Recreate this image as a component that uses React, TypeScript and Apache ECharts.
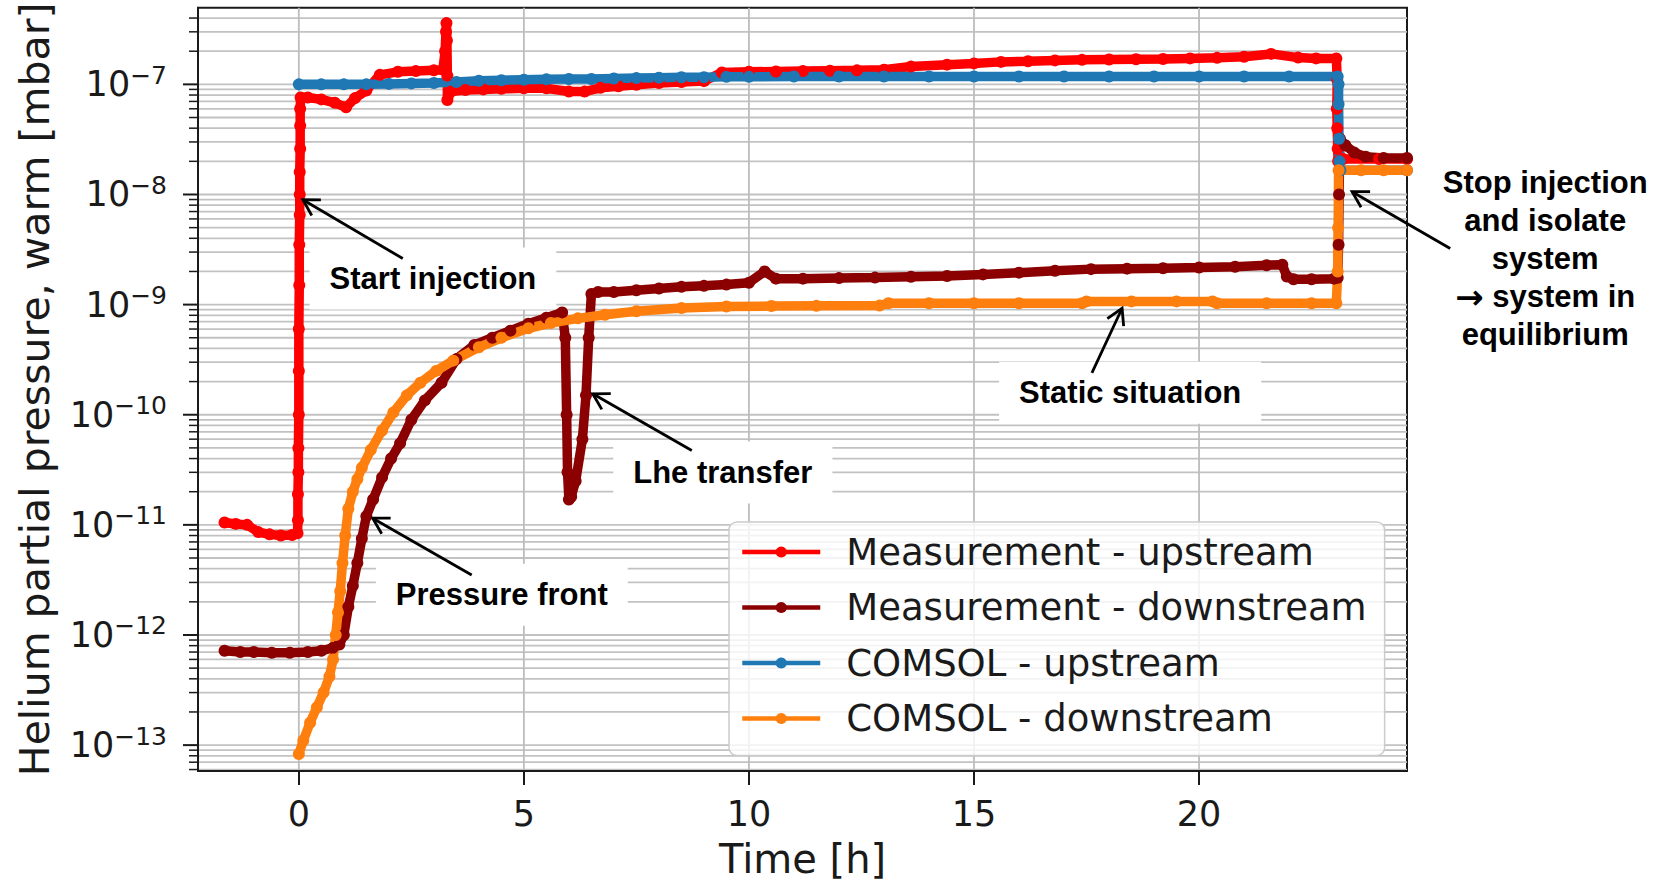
import React, { useEffect, useRef } from 'react';
import * as echarts from 'echarts';

// ---------- data ----------
const measurementUpstream: [number, number][] = [
  [-1.65, 1.05e-11], [-1.4, 1.02e-11], [-1.15, 1.0e-11], [-0.9, 8.6e-12], [-0.65, 8.2e-12], [-0.4, 8.0e-12],
  [-0.15, 8.1e-12], [-0.03, 8.4e-12], [-0.02, 1.1e-11], [-0.02, 1.9e-11], [-0.01, 3.0e-11], [-0.01, 5e-11],
  [0, 1e-10], [0, 2.5e-10], [0, 6e-10], [0.01, 1.5e-9], [0.01, 3.5e-9], [0.02, 6.5e-9], [0.02, 1.0e-8],
  [0.02, 1.6e-8], [0.03, 2.6e-8], [0.03, 4.2e-8], [0.03, 6.0e-8], [0.04, 7.6e-8], [0.2, 7.6e-8], [0.5, 7.3e-8],
  [0.8, 6.8e-8], [1.05, 6.2e-8], [1.25, 7.5e-8], [1.5, 8.8e-8], [1.8, 1.22e-7], [2.2, 1.3e-7], [2.6, 1.32e-7],
  [3.0, 1.34e-7], [3.2, 1.36e-7], [3.25, 2.0e-7], [3.27, 3.0e-7], [3.28, 3.6e-7], [3.29, 2.5e-7], [3.3, 1.2e-7],
  [3.3, 7.2e-8], [3.38, 8.6e-8], [3.7, 8.9e-8], [4.1, 9.0e-8], [4.5, 9.1e-8], [5.0, 9.2e-8], [5.5, 9.2e-8],
  [6.0, 8.6e-8], [6.35, 8.6e-8], [6.7, 9.3e-8], [7.1, 9.6e-8], [7.5, 9.9e-8], [8.0, 1.03e-7], [8.5, 1.05e-7],
  [9.0, 1.07e-7], [9.4, 1.28e-7], [10, 1.3e-7], [10.6, 1.31e-7], [11.2, 1.32e-7], [11.8, 1.33e-7], [12.4, 1.34e-7],
  [13.0, 1.36e-7], [13.6, 1.45e-7], [14.4, 1.51e-7], [15.0, 1.55e-7], [15.6, 1.6e-7], [16.2, 1.62e-7], [16.8, 1.65e-7],
  [17.4, 1.67e-7], [18.0, 1.68e-7], [18.6, 1.69e-7], [19.2, 1.7e-7], [19.8, 1.72e-7], [20.4, 1.74e-7], [21.0, 1.78e-7],
  [21.6, 1.89e-7], [22.2, 1.75e-7], [22.6, 1.72e-7], [23.05, 1.72e-7], [23.07, 1.1e-7], [23.06, 6e-8], [23.07, 4e-8],
  [23.08, 2.6e-8], [23.09, 2.0e-8], [23.2, 2.1e-8], [24.0, 2.1e-8], [24.62, 2.1e-8],
];

const measurementDownstream: [number, number][] = [
  [-1.65, 7.2e-13], [-1.3, 7.0e-13], [-1.0, 7.0e-13], [-0.6, 6.9e-13], [-0.2, 6.9e-13], [0.2, 7.0e-13],
  [0.5, 7.2e-13], [0.75, 7.6e-13], [0.9, 8.2e-13], [1.0, 1.0e-12], [1.1, 1.8e-12], [1.2, 2.8e-12],
  [1.3, 4.5e-12], [1.4, 7.5e-12], [1.5, 1.2e-11], [1.65, 1.7e-11], [1.85, 2.7e-11], [2.05, 4.0e-11],
  [2.25, 5.5e-11], [2.5, 9.0e-11], [2.8, 1.35e-10], [3.17, 1.95e-10], [3.5, 3.2e-10], [3.9, 4.3e-10],
  [4.3, 5.0e-10], [4.7, 5.8e-10], [5.1, 6.7e-10], [5.5, 7.6e-10], [5.85, 8.5e-10], [5.92, 5e-10],
  [5.95, 1e-10], [5.97, 3e-11], [6.0, 1.7e-11], [6.05, 1.8e-11], [6.15, 2.5e-11], [6.3, 6.0e-11],
  [6.38, 1.5e-10], [6.44, 5e-10], [6.5, 1.25e-9], [6.65, 1.3e-9], [7.0, 1.3e-9], [7.5, 1.35e-9],
  [8.0, 1.4e-9], [8.5, 1.45e-9], [9.0, 1.48e-9], [9.5, 1.52e-9], [10.0, 1.58e-9], [10.35, 2.0e-9],
  [10.6, 1.72e-9], [11.2, 1.72e-9], [12.0, 1.74e-9], [12.8, 1.76e-9], [13.6, 1.79e-9], [14.4, 1.82e-9],
  [15.2, 1.88e-9], [16.0, 1.95e-9], [16.8, 2.03e-9], [17.6, 2.1e-9], [18.4, 2.12e-9], [19.2, 2.14e-9],
  [20.0, 2.17e-9], [20.8, 2.21e-9], [21.5, 2.28e-9], [21.85, 2.3e-9], [21.95, 1.8e-9], [22.1, 1.7e-9],
  [22.5, 1.7e-9], [23.0, 1.72e-9], [23.08, 1.75e-9], [23.1, 3.5e-9], [23.11, 1.0e-8], [23.13, 3.2e-8],
  [23.25, 2.8e-8], [23.45, 2.4e-8], [23.7, 2.2e-8], [24.1, 2.15e-8], [24.62, 2.15e-8],
];

const comsolUpstream: [number, number][] = [
  [0, 1.0e-7], [0.5, 1.0e-7], [1.0, 1.0e-7], [1.5, 1.0e-7], [2.0, 1.01e-7], [2.5, 1.02e-7], [3.0, 1.03e-7],
  [3.5, 1.05e-7], [4.0, 1.08e-7], [4.5, 1.09e-7], [5.0, 1.1e-7], [5.5, 1.11e-7], [6.0, 1.12e-7], [6.5, 1.12e-7],
  [7.0, 1.13e-7], [7.5, 1.14e-7], [8.0, 1.15e-7], [8.5, 1.16e-7], [9.0, 1.16e-7], [9.5, 1.17e-7], [10, 1.17e-7],
  [11, 1.18e-7], [12, 1.18e-7], [13, 1.18e-7], [14, 1.18e-7], [15, 1.18e-7], [16, 1.18e-7], [17, 1.18e-7],
  [18, 1.18e-7], [19, 1.18e-7], [20, 1.18e-7], [21, 1.18e-7], [22, 1.18e-7], [23.08, 1.18e-7], [23.1, 1.0e-7],
  [23.1, 6.6e-8], [23.11, 3.2e-8], [23.12, 2.0e-8], [23.14, 1.66e-8], [24.62, 1.66e-8],
];

const comsolDownstream: [number, number][] = [
  [0.0, 8.3e-14], [0.1, 1.1e-13], [0.25, 1.6e-13], [0.4, 2.2e-13], [0.55, 3.0e-13], [0.68, 4.2e-13],
  [0.76, 6.0e-13], [0.82, 1.0e-12], [0.87, 1.6e-12], [0.92, 2.5e-12], [0.97, 4.5e-12], [1.03, 8.0e-12],
  [1.1, 1.4e-11], [1.2, 2.0e-11], [1.3, 2.6e-11], [1.4, 3.3e-11], [1.6, 4.8e-11], [1.85, 7.2e-11],
  [2.1, 1.05e-10], [2.4, 1.5e-10], [2.7, 1.95e-10], [3.05, 2.5e-10], [3.43, 3.1e-10], [4.0, 4.1e-10],
  [4.5, 5.0e-10], [5.1, 6.1e-10], [5.6, 6.8e-10], [6.2, 7.5e-10], [6.8, 8.1e-10], [7.5, 8.7e-10],
  [8.5, 9.3e-10], [9.5, 9.6e-10], [10.5, 9.7e-10], [11.5, 9.75e-10], [12.9, 9.8e-10], [13.1, 1.03e-9],
  [14.0, 1.03e-9], [15.0, 1.03e-9], [16.0, 1.03e-9], [17.4, 1.03e-9], [17.5, 1.07e-9], [18.5, 1.07e-9],
  [19.5, 1.07e-9], [20.3, 1.07e-9], [20.4, 1.03e-9], [21.5, 1.03e-9], [22.5, 1.03e-9], [23.05, 1.03e-9],
  [23.08, 2.0e-9], [23.09, 5.0e-9], [23.1, 1.66e-8], [23.6, 1.66e-8], [24.1, 1.66e-8], [24.62, 1.66e-8],
];

const seriesNames = ['Measurement - upstream', 'Measurement - downstream', 'COMSOL - upstream', 'COMSOL - downstream'];
const seriesColors = ['#ff0000', '#8b0000', '#1f77b4', '#ff7f0e'];

const xTickValues = [0, 5, 10, 15, 20];
const yDecades = [-13, -12, -11, -10, -9, -8, -7];
const minorMultipliers = [2, 3, 4, 5, 6, 7, 8, 9];

const xAxisName = 'Time [h]';
const yAxisName = 'Helium partial pressure, warm [mbar]';

const annotationTexts: { text: string; at: [number, number]; boxed: boolean }[] = [
  { text: 'Start injection', at: [2.98, 1.73e-9], boxed: true },
  { text: 'Lhe transfer', at: [9.42, 2.99e-11], boxed: true },
  { text: 'Pressure front', at: [4.51, 2.32e-12], boxed: true },
  { text: 'Static situation', at: [18.47, 1.58e-10], boxed: true },
  { text: 'Stop injection\nand isolate\nsystem\n{a|\u2192} system in\nequilibrium', at: [27.69, 2.62e-9], boxed: false },
];

const annotationArrows: { from: [number, number]; to: [number, number] }[] = [
  { from: [2.31, 2.62e-9], to: [0.09, 8.95e-9] },
  { from: [8.73, 4.73e-11], to: [6.53, 1.55e-10] },
  { from: [3.84, 3.51e-12], to: [1.64, 1.15e-11] },
  { from: [17.62, 2.4e-10], to: [18.29, 9.27e-10] },
  { from: [25.58, 3.23e-9], to: [23.4, 1.06e-8] },
];

// ---------- axis extents ----------
const X_MIN = -2.24;
const X_MAX = 24.62;
const Y_MIN = 5.82e-14;
const Y_MAX = 4.97e-7;

const FONT = '"DejaVu Sans", sans-serif';
const ANNO_FONT = 'bold 31px "Liberation Sans", Arial, sans-serif';

const yMajorValues = yDecades.map((d) => Math.pow(10, d));
const yGridValues: [number, number, number][] = [];
for (let d = -14; d <= -7; d++) {
  const base = Math.pow(10, d);
  if (base >= Y_MIN && base <= Y_MAX) yGridValues.push([X_MIN, base, 1]);
  for (const m of minorMultipliers) {
    const v = m * base;
    if (v >= Y_MIN && v <= Y_MAX * 0.999) yGridValues.push([X_MIN, v, 0]);
  }
}

export default function App() {
  const ref = useRef<HTMLDivElement>(null);

  useEffect(() => {
    if (!ref.current) return;
    const chart = echarts.init(ref.current, null, { renderer: 'svg' });

    const allData = [measurementUpstream, measurementDownstream, comsolUpstream, comsolDownstream];

    const option: any = {
      animation: false,
      backgroundColor: '#ffffff',
      grid: {
        left: 198,
        right: 250,
        top: 5,
        bottom: 112,
        show: true,
        borderColor: '#1a1a1a',
        borderWidth: 2,
        backgroundColor: 'transparent',
      },
      legend: {
        orient: 'vertical',
        left: 729,
        top: 522,
        padding: [10, 18, 17, 11],
        itemGap: 15.5,
        itemWidth: 78,
        itemHeight: 14,
        backgroundColor: 'rgba(255,255,255,0.8)',
        borderColor: '#cccccc',
        borderWidth: 1.5,
        borderRadius: 8,
        lineStyle: { width: 4.5 },
        textStyle: {
          fontSize: 37,
          fontFamily: FONT,
          color: '#1a1a1a',
          lineHeight: 40,
          padding: [0, 0, 0, 21],
        },
        data: seriesNames,
      },
      xAxis: {
        type: 'value',
        min: X_MIN,
        max: X_MAX,
        name: xAxisName,
        nameLocation: 'middle',
        nameGap: 68,
        nameTextStyle: { fontSize: 40, fontFamily: FONT, color: '#1a1a1a' },
        axisLine: { show: true, onZero: false, lineStyle: { color: '#1a1a1a', width: 2 } },
        axisTick: { show: true, length: 14, customValues: xTickValues, lineStyle: { color: '#1a1a1a', width: 2 } },
        axisLabel: {
          customValues: xTickValues,
          fontSize: 35,
          fontFamily: FONT,
          color: '#1a1a1a',
          margin: 25,
          formatter: (v: number) => String(Math.round(v)),
        },
        splitLine: { show: false },
      },
      yAxis: {
        type: 'log',
        logBase: 10,
        min: Y_MIN,
        max: Y_MAX,
        name: yAxisName,
        nameLocation: 'middle',
        nameGap: 143,
        nameTextStyle: { fontSize: 41, fontFamily: FONT, color: '#1a1a1a' },
        axisLine: { show: true, onZero: false, lineStyle: { color: '#1a1a1a', width: 2 } },
        axisTick: { show: false },
        axisLabel: {
          customValues: yMajorValues,
          margin: 31,
          formatter: (v: number) => {
            const e = Math.round(Math.log10(v));
            return `{b|10}{s|\u2212${Math.abs(e)}}`;
          },
          rich: {
            b: { fontSize: 35, fontFamily: FONT, color: '#1a1a1a' },
            s: { fontSize: 25, fontFamily: FONT, color: '#1a1a1a', padding: [0, 0, 18, 0] },
          },
        },
        splitLine: { show: false },
        minorTick: { show: false },
      },
      series: [
        {
          type: 'custom',
          name: 'hgrid',
          silent: true,
          z: 0,
          clip: false,
          encode: { x: 0, y: 1 },
          data: yGridValues,
          renderItem: (params: any, api: any) => {
            const v = api.value(1);
            const major = api.value(2) === 1;
            const pt = api.coord([X_MIN, v]);
            const cs = params.coordSys;
            return {
              type: 'group',
              children: [
                {
                  type: 'line',
                  shape: { x1: cs.x, y1: pt[1], x2: cs.x + cs.width, y2: pt[1] },
                  style: { stroke: '#c2c2c2', lineWidth: 1.8 },
                },
                {
                  type: 'line',
                  shape: { x1: cs.x - (major ? 15 : 9), y1: pt[1], x2: cs.x, y2: pt[1] },
                  style: { stroke: '#1a1a1a', lineWidth: major ? 2 : 1.5 },
                },
              ],
            };
          },
        },
        {
          type: 'custom',
          name: 'vgrid',
          silent: true,
          z: 0,
          encode: { x: 0, y: 1 },
          data: xTickValues.map((t) => [t, Y_MIN]),
          renderItem: (params: any, api: any) => {
            const pt = api.coord([api.value(0), Y_MIN]);
            const cs = params.coordSys;
            return {
              type: 'line',
              shape: { x1: pt[0], y1: cs.y, x2: pt[0], y2: cs.y + cs.height },
              style: { stroke: '#bdbdbd', lineWidth: 1.8 },
            };
          },
        },
        ...allData.map((d, i) => ({
          type: 'line',
          name: seriesNames[i],
          data: d,
          z: 2,
          symbol: 'circle',
          symbolSize: 12,
          showSymbol: true,
          showAllSymbol: true,
          color: seriesColors[i],
          lineStyle: { color: seriesColors[i], width: 9.5 },
          itemStyle: { color: seriesColors[i] },
          emphasis: { disabled: true },
        })),
      ],
    };

    chart.setOption(option);

    const px = (c: [number, number]) => chart.convertToPixel({ gridIndex: 0 }, c) as number[];
    const elements: any[] = [];

    annotationTexts.forEach((a) => {
      const p = px(a.at);
      elements.push({
        type: 'text',
        x: p[0],
        y: p[1],
        z: 1,
        silent: true,
        style: {
          text: a.text,
          font: ANNO_FONT,
          fill: '#000000',
          align: 'center',
          verticalAlign: 'middle',
          lineHeight: 38,
          backgroundColor: a.boxed ? '#ffffff' : undefined,
          padding: a.boxed ? [12, 20, 12, 20] : 0,
          rich: {
            a: { font: 'bold 34px "DejaVu Sans", sans-serif', fill: '#000000', lineHeight: 38 },
          },
        },
      });
    });

    annotationArrows.forEach((a) => {
      const t = px(a.from);
      const h = px(a.to);
      const dx = h[0] - t[0];
      const dy = h[1] - t[1];
      const len = Math.sqrt(dx * dx + dy * dy) || 1;
      const ux = dx / len;
      const uy = dy / len;
      const L = 18;
      const ang = (30 * Math.PI) / 180;
      const rot = (a2: number) => [
        h[0] - L * (ux * Math.cos(a2) - uy * Math.sin(a2)),
        h[1] - L * (ux * Math.sin(a2) + uy * Math.cos(a2)),
      ];
      elements.push({
        type: 'line',
        z: 10,
        silent: true,
        shape: { x1: t[0], y1: t[1], x2: h[0], y2: h[1] },
        style: { stroke: '#000000', lineWidth: 2.8 },
      });
      elements.push({
        type: 'polyline',
        z: 10,
        silent: true,
        shape: { points: [rot(ang), [h[0], h[1]], rot(-ang)] },
        style: { stroke: '#000000', lineWidth: 2.8, fill: 'none' },
      });
    });

    chart.setOption({ graphic: { elements } });

    return () => {
      chart.dispose();
    };
  }, []);

  return (
    <div
      ref={ref}
      style={{ position: 'fixed', left: 0, top: 0, width: 1657, height: 884, background: '#ffffff' }}
    />
  );
}
